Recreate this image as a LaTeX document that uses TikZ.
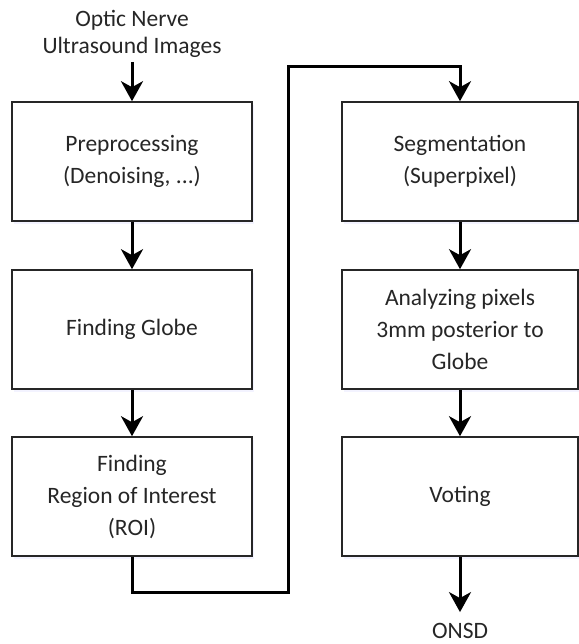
\documentclass[tikz,border=0pt]{standalone}
\usepackage{fontspec}
\setmainfont{Carlito}
\usetikzlibrary{arrows.meta,shadows}

\tikzset{
    stage/.style={draw=black!85, line width=1.6pt, fill=white, minimum width=240pt,
        minimum height=119pt, align=center, inner sep=0pt,
        drop shadow={shadow xshift=2pt, shadow yshift=-3pt, fill=blue!6, opacity=.8}},
    flow/.style={line width=3pt, -{Stealth[length=20pt, width=22pt, inset=6pt]}},
    txt/.style={align=center, inner sep=0pt}
}

\begin{document}
\begin{tikzpicture}[x=1pt, y=-1pt, font=\fontsize{23.5}{32}\selectfont, text=black!85]

\useasboundingbox (0,0) rectangle (578,644);

% left column
\node[txt, font=\fontsize{23.5}{27}\selectfont] (input) at (132,34) {Optic Nerve\\Ultrasound Images};
\node[stage] (pre) at (132,161.5) {Preprocessing\\(Denoising, ...)};
\node[stage] (globe) at (132,329.5) {Finding Globe};
\node[stage] (roi) at (132,496.5) {Finding\\Region of Interest\\(ROI)};

% right column
\node[stage, minimum width=236pt] (seg) at (460,161.5) {Segmentation\\(Superpixel)};
\node[stage, minimum width=236pt] (ana) at (460,329.5) {Analyzing pixels\\3mm posterior to\\Globe};
\node[stage, minimum width=236pt] (vote) at (460,496.5) {Voting};
\node[txt] (onsd) at (460,631) {ONSD};

\coordinate (loopa) at (288,592);
\coordinate (loopb) at (288,67);

\draw[flow] (input.south) ++(0,4) -- (pre.north);
\draw[flow] (pre) -- (globe);
\draw[flow] (globe) -- (roi);
\draw[flow] (roi.south) |- (loopa) -- (loopb) -| (seg.north);  %salto de columna
\draw[flow] (seg) -- (ana);
\draw[flow] (ana) -- (vote);
\draw[flow] (vote.south) -- ([yshift=11pt]onsd.north);

\end{tikzpicture}
\end{document}
